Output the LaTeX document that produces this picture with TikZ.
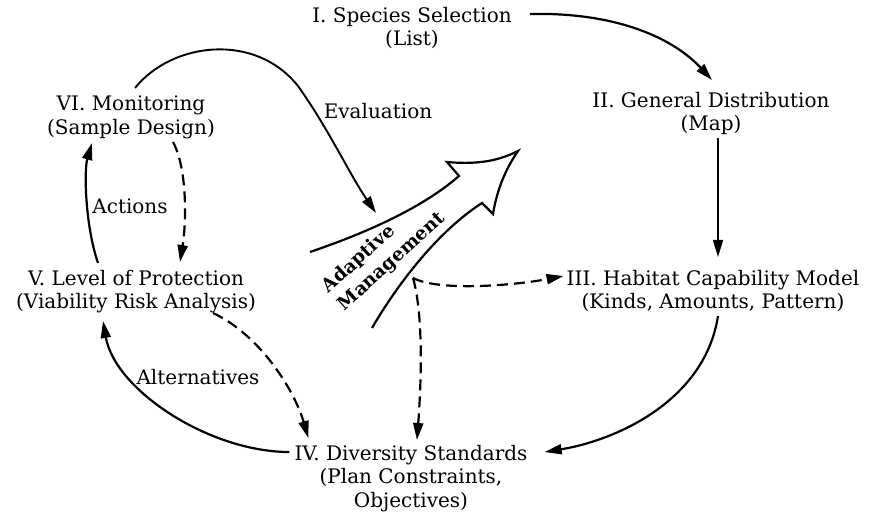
\documentclass[tikz,border=0pt]{standalone}
\usepackage{fontspec}
\setmainfont{DejaVu Serif}
\usetikzlibrary{arrows.meta,calc}
\begin{document}
\begin{tikzpicture}[x=1pt,y=-1pt,
  stage/.style={anchor=north,align=center,inner sep=0pt,font=\fontsize{20}{23.5}\selectfont},
  lbl/.style={inner sep=0pt,font=\fontsize{20}{23.5}\selectfont},
  flow/.style={line width=2.2pt,-{Triangle[length=17pt,width=10pt]}},
  thinflow/.style={line width=1.6pt,-{Triangle[length=17pt,width=10pt]}},
  dflow/.style={flow,dash pattern=on 11pt off 6pt},
  bigarrow/.style={line width=2.2pt,line join=miter}
]
\useasboundingbox (0,0) rectangle (871,516);

% the six stages of the cycle
\node[stage] (I)   at (412,7)   {I. Species Selection\\(List)};
\node[stage] (II)  at (711,92)  {II. General Distribution\\(Map)};
\node[stage] (III) at (713,270) {III. Habitat Capability Model\\(Kinds, Amounts, Pattern)};
\node[stage] (IV)  at (411,445) {IV. Diversity Standards\\(Plan Constraints,\\Objectives)};
\node[stage] (V)   at (136,270) {V. Level of Protection\\(Viability Risk Analysis)};
\node[stage] (VI)  at (131,96)  {VI. Monitoring\\(Sample Design)};

% connector labels
\node[lbl] (eval) at (378,111) {Evaluation};
\node[lbl] (act)  at (130,206) {Actions};
\node[lbl] (alt)  at (198,377) {Alternatives};

% central hollow arrow
\draw[bigarrow]
  (310,252) .. controls (360,235) and (420,210) .. (459,176)
  -- (447,162)
  .. controls (480,165) and (500,160) .. (518,151)
  .. controls (505,170) and (497,190) .. (493,214)
  -- (482,203)
  .. controls (440,230) and (400,280) .. (372,328);
\node[inner sep=0pt,rotate=42,align=left,
      font=\fontsize{18.5}{24}\selectfont\bfseries] (AM) at (384,253)
  {Adaptive\\Management};
\coordinate (amtop) at (376,213);
\coordinate (amfoot) at (413,278);

% solid flows
\draw[flow] ($(I.north east)+(18,7)$)
  .. controls ++(90,-2) and ($(II.north)+(-36,-52)$) .. ($(II.north)+(1,-12)$);
\draw[thinflow] ($(II.north)+(7,46)$) -- ($(III.north)+(5,-13)$);
\draw[flow] ($(III.north)+(5,46)$)
  .. controls ++(-13,84) and ($(IV.north east)+(90,-5)$) .. ($(IV.north east)+(17,7)$);
\draw[flow] ($(IV.north west)+(-5,7)$)
  .. controls ++(-80,0) and ($(V.north)+(-21,120)$) .. ($(V.north)+(-33,51)$);
\draw[flow] ($(V.north)+(-38,-7)$)
  .. controls ++(-13,-38) and ($(VI.north)+(-47,74)$) .. ($(VI.north)+(-39,47)$);
\draw[thinflow,line width=1.9pt] ($(VI.north)+(4,-8)$)
  .. controls (172,42) and (255,32) .. (298,86)
  .. controls (328,128) and (350,175) .. (amtop);

% dashed flows
\draw[dflow] ($(VI.north)+(42,46)$)
  .. controls ++(15,28) and ($(V.north)+(50,-45)$) .. ($(V.north)+(44,-8)$);
\draw[dflow] ($(V.north)+(77,43)$)
  .. controls ++(47,22) and ($(IV.north west)+(0,-55)$) .. ($(IV.north west)+(14,-7)$);
\draw[dflow] (amfoot)
  .. controls ++(12,42) and ($(IV.north)+(9,-45)$) .. ($(IV.north)+(6,-5)$);
\draw[dflow] (amfoot)
  .. controls ++(27,14) and ($(III.north west)+(-50,15)$) .. ($(III.north west)+(-3,6)$);
\end{tikzpicture}
\end{document}
